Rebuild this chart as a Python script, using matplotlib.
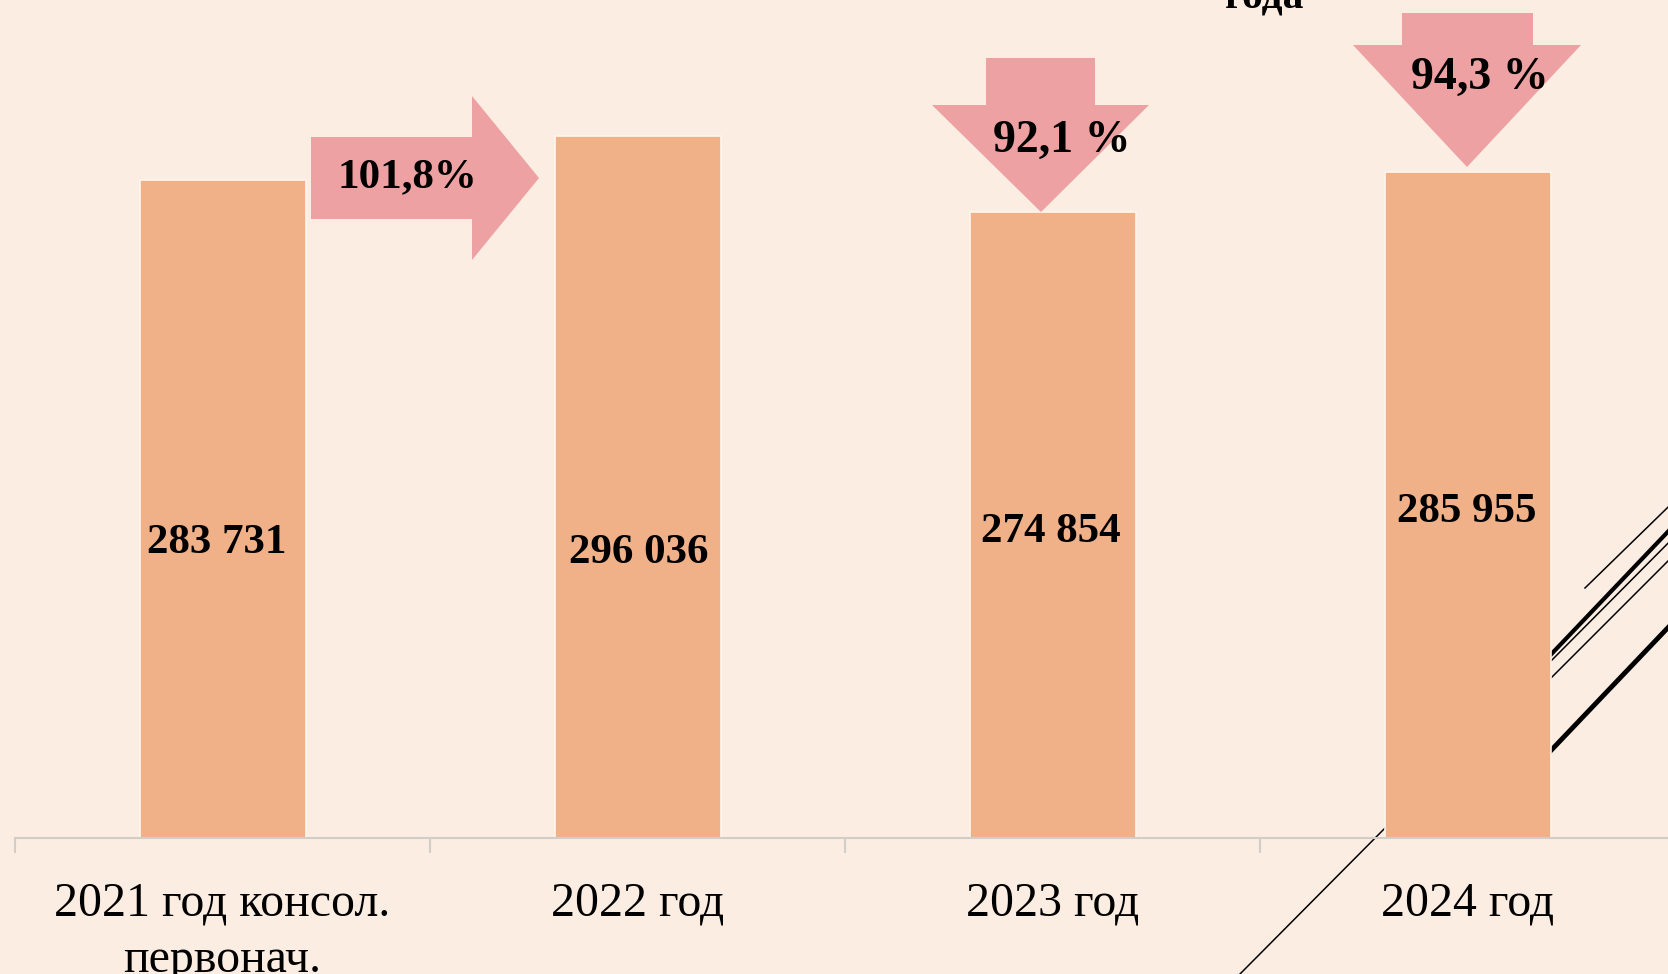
import numpy as np
import matplotlib
matplotlib.use("Agg")
import matplotlib.pyplot as plt
from matplotlib.patches import Polygon
from matplotlib.lines import Line2D
from matplotlib.transforms import Affine2D

# data
categories = ["2021 год консол.\nпервонач.", "2022 год", "2023 год", "2024 год"]
values = [283731, 296036, 274854, 285955]
value_labels = ["283 731", "296 036", "274 854", "285 955"]
pct_labels = ["101,8%", "92,1 %", "94,3 %"]

bg = "#FCEDE3"
bar_color = "#F0B088"
arrow_color = "#EDA1A2"

plt.rcParams['font.family'] = ['Liberation Serif', 'DejaVu Serif']

W, H = 1668, 974
fig = plt.figure(figsize=(W / 100, H / 100), dpi=100, facecolor=bg)

# pixel coords (origin top-left) -> figure
px = Affine2D().scale(1 / W, -1 / H).translate(0, 1) + fig.transFigure

ax = fig.add_axes([15 / W, (H - 838) / H, 1660 / W, 838 / H])
ax.patch.set_visible(False)

x = np.arange(len(categories))
ax.bar(x, values, width=0.4, color=bar_color, edgecolor="#FFF6EE", linewidth=1.2, zorder=2)
ax.set_xlim(-0.5, 3.5)
ax.set_ylim(100000, 100000 + 838 / 0.00358)

# value labels inside bars (hand placed like on the slide)
label_dx = [-0.014, 0.004, -0.004, -0.001]
label_y = [182500, 179500, 185500, 191000]
for xi, dx, ly, t in zip(x, label_dx, label_y, value_labels):
    ax.text(xi + dx, ly, t, ha="center", va="center", fontsize=31,
            fontweight="bold", zorder=3)

for s in ["top", "right", "left"]:
    ax.spines[s].set_visible(False)
ax.spines["bottom"].set_color("#D3CDC8")
ax.spines["bottom"].set_linewidth(1.5)
ax.set_yticks([])
ax.set_xticks(x)
ax.set_xticklabels(categories, fontsize=34.5, linespacing=1.38)
ax.tick_params(axis="x", which="major", length=0, pad=31)
ax.set_xticks(np.arange(-0.5, 4, 1), minor=True)
ax.tick_params(axis="x", which="minor", length=11, width=1.5, color="#D3CDC8")

# arrows (slide shapes, pixel layout)
right_arrow = [(311, 137), (472, 137), (472, 96), (539, 178), (472, 260), (472, 219), (311, 219)]
down1 = [(986, 58), (1095, 58), (1095, 105), (1149, 105), (1041, 212), (932, 105), (986, 105)]
down2 = [(1402, 13), (1533, 13), (1533, 45), (1581, 45), (1467, 167), (1353, 45), (1402, 45)]
for pts in [right_arrow, down1, down2]:
    fig.add_artist(Polygon(pts, closed=True, transform=px, facecolor=arrow_color,
                           edgecolor="none", zorder=3))

pct_pos = [(407, 177), (1062, 141), (1480, 78)]
pct_size = [31, 33, 33]
for (tx, ty), fs, t in zip(pct_pos, pct_size, pct_labels):
    fig.text(tx / W, 1 - ty / H, t, ha="center", va="center", fontsize=fs,
             fontweight="bold", zorder=4)

# title remnant cut off at top
fig.text(1265 / W, 1 - 9 / H, "года", ha="center", va="baseline", fontsize=30,
         fontweight="bold")

# decorative slide lines, behind bars
deco = [
    ((1240, 974), (1700, 511), 1.1),
    ((1500, 708), (1700, 498), 3.0),
    ((1500, 729), (1700, 529), 1.1),
    ((1585, 588), (1700, 476), 1.1),
    ((1500, 804), (1700, 594), 3.5),
]
for (x0, y0), (x1, y1), lw in deco:
    fig.add_artist(Line2D([x0, x1], [y0, y1], transform=px, color="black",
                          linewidth=lw, zorder=-1))

fig.savefig("out.png", dpi=100, facecolor=bg)
